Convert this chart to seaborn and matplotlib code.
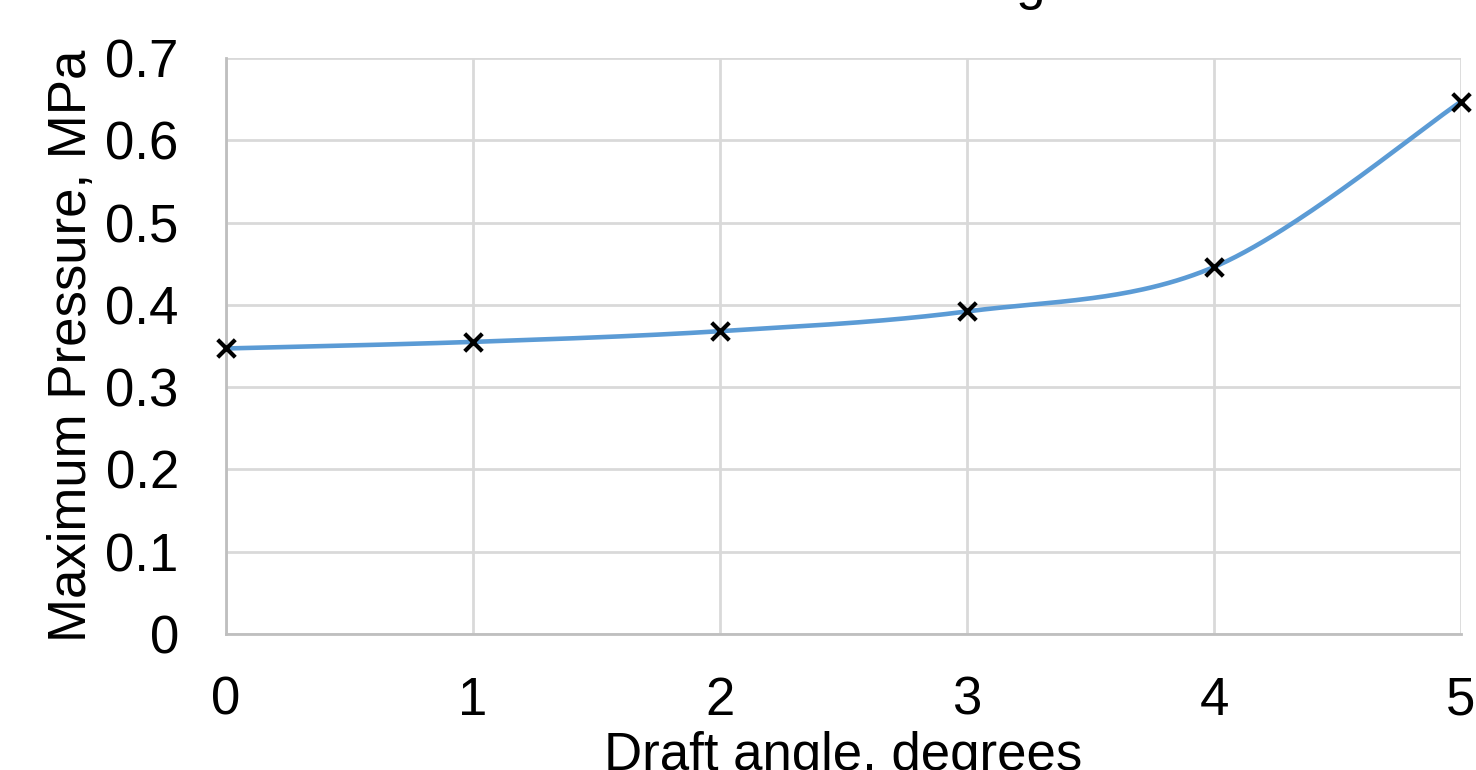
import numpy as np
import pandas as pd
import seaborn as sns
import matplotlib
matplotlib.use('Agg')
import matplotlib.pyplot as plt

# data
draft_angle = [0, 1, 2, 3, 4, 5]
max_pressure = [0.347, 0.355, 0.368, 0.392, 0.446, 0.647]
y_ticks = [0, 0.1, 0.2, 0.3, 0.4, 0.5, 0.6, 0.7]
y_tick_labels = ['0', '0.1', '0.2', '0.3', '0.4', '0.5', '0.6', '0.7']


def smooth_line(xs, ys, n=60):
    # bezier smoothing like the spreadsheet "smoothed line" option
    p = np.column_stack([xs, ys]).astype(float)
    p = np.vstack([p[0], p, p[-1]])
    out = []
    t = np.linspace(0, 1, n)[:, None]
    for i in range(1, len(p) - 2):
        p0, p3 = p[i], p[i + 1]
        c1 = p0 + (p[i + 1] - p[i - 1]) / 6
        c2 = p3 - (p[i + 2] - p[i]) / 6
        seg = ((1 - t) ** 3) * p0 + 3 * ((1 - t) ** 2) * t * c1 + 3 * (1 - t) * t ** 2 * c2 + t ** 3 * p3
        out.append(seg if i == 1 else seg[1:])
    out = np.vstack(out)
    return pd.DataFrame({'x': out[:, 0], 'y': out[:, 1]})


sns.set_theme(style='white')
plt.rcParams['font.family'] = ['Liberation Sans', 'DejaVu Sans']
plt.rcParams['text.color'] = 'black'
plt.rcParams['axes.labelcolor'] = 'black'

fig = plt.figure(figsize=(14.76, 7.70), dpi=100)
ax = fig.add_axes([226 / 1476, 1 - 634 / 770, (1461 - 226) / 1476, (634 - 58) / 770])

curve = smooth_line(draft_angle, max_pressure)
sns.lineplot(data=curve, x='x', y='y', sort=False, color='#5b9bd5', linewidth=3.3, ax=ax, zorder=3)
sns.scatterplot(x=draft_angle, y=max_pressure, marker='x', color='black', s=160,
                linewidth=3, ax=ax, zorder=4, clip_on=False)

ax.set_xlim(0, 5)
ax.set_ylim(0, 0.7)
ax.set_xticks(draft_angle)
ax.set_yticks(y_ticks)
ax.set_yticklabels(y_tick_labels)
ax.grid(True, color='#d9d9d9', linewidth=2)
ax.set_axisbelow(True)
for side in ['top', 'right']:
    ax.spines[side].set_visible(False)
for side in ['left', 'bottom']:
    ax.spines[side].set_color('#bfbfbf')
    ax.spines[side].set_linewidth(2)
ax.tick_params(axis='both', labelsize=38, colors='black', length=0)
ax.tick_params(axis='x', pad=30)
ax.tick_params(axis='y', pad=34)

ax.set_xlabel('Draft angle, degrees', fontsize=38, labelpad=4)
ax.set_ylabel('Maximum Pressure, MPa', fontsize=38, labelpad=6)

# chart title sits above the visible area, only the descenders show
fig.text(0.466, 1 + 1 / 770, 'Maximum Pressure vs Draft Angle', fontsize=38,
         ha='center', va='baseline')

fig.savefig('out.png', dpi=100)
